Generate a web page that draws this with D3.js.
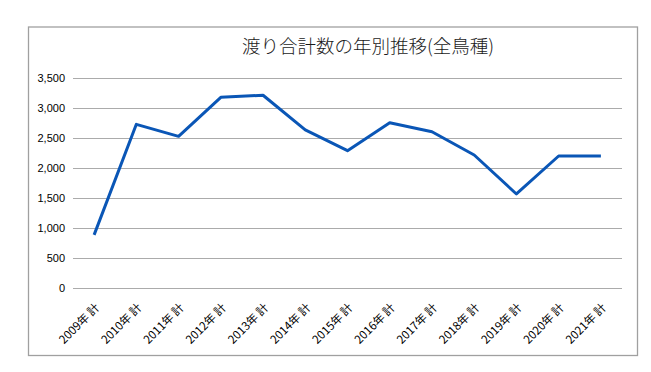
<!DOCTYPE html>
<html>
<head>
<meta charset="utf-8">
<script src="https://cdnjs.cloudflare.com/ajax/libs/d3/7.8.5/d3.min.js"></script>
<style>
  html, body { margin: 0; padding: 0; background: #fff; }
  svg { display: block; }
</style>
</head>
<body>
<div id="chart"></div>
<script>
// data
const years = ["2009", "2010", "2011", "2012", "2013", "2014", "2015", "2016", "2017", "2018", "2019", "2020", "2021"]
const totals = [890, 2733, 2533, 3183, 3217, 2640, 2293, 2760, 2610, 2222, 1572, 2205, 2205]
const yTicks = [0, 500, 1000, 1500, 2000, 2500, 3000, 3500]
const title = "渡り合計数の年別推移(全鳥種)"

const W = 651, H = 372
const plot = { left: 73, right: 622, top: 78.3, bottom: 288.3 }

const svg = d3.select("#chart").append("svg")
  .attr("width", W).attr("height", H)

// chart frame
svg.append("rect")
  .attr("x", 28.5).attr("y", 27).attr("width", 609).attr("height", 328.5)
  .attr("fill", "#fff").attr("stroke", "#a0a0a0").attr("stroke-width", 1.3)

svg.append("text")
  .attr("x", 368).attr("y", 53)
  .attr("text-anchor", "middle")
  .attr("font-family", "'Noto Sans CJK JP', sans-serif")
  .attr("font-size", "18.5px").attr("font-weight", 300)
  .attr("fill", "#1a1a1a")
  .text(title)

const x = d3.scaleBand().domain(years).range([plot.left, plot.right])
const y = d3.scaleLinear().domain([0, 3500]).range([plot.bottom, plot.top])

// gridlines
svg.append("g").selectAll("line").data(yTicks).join("line")
  .attr("x1", plot.left).attr("x2", plot.right)
  .attr("y1", d => Math.round(y(d)) + 0.5).attr("y2", d => Math.round(y(d)) + 0.5)
  .attr("stroke", "#ababab").attr("stroke-width", 1)

// y axis labels
const yAxis = svg.append("g")
  .attr("transform", `translate(${plot.left - 8},0)`)
  .call(d3.axisLeft(y).tickValues(yTicks).tickSize(0).tickPadding(0)
    .tickFormat(d3.format(",")))
yAxis.select(".domain").remove()
yAxis.selectAll("text")
  .attr("font-family", "'Liberation Sans', Arial, sans-serif")
  .attr("font-size", "11px").attr("fill", "#000")

// x axis labels, rotated
const xAxis = svg.append("g")
  .attr("transform", `translate(0,${plot.bottom})`)
  .call(d3.axisBottom(x).tickSize(0).tickPadding(0).tickFormat(d => d + "年 計"))
xAxis.select(".domain").remove()
xAxis.selectAll("text")
  .attr("font-family", "'Noto Sans CJK JP', sans-serif")
  .attr("font-size", "11.5px").attr("fill", "#000")
  .attr("text-anchor", "end")
  .attr("dy", 0)
  .attr("transform", "translate(6,20) rotate(-45)")

// line
const line = d3.line()
  .x((d, i) => x(years[i]) + x.bandwidth() / 2)
  .y(d => y(d))

svg.append("path")
  .datum(totals)
  .attr("d", line)
  .attr("fill", "none")
  .attr("stroke", "#0a56b6")
  .attr("stroke-width", 3)
  .attr("stroke-linejoin", "round")
</script>
</body>
</html>
